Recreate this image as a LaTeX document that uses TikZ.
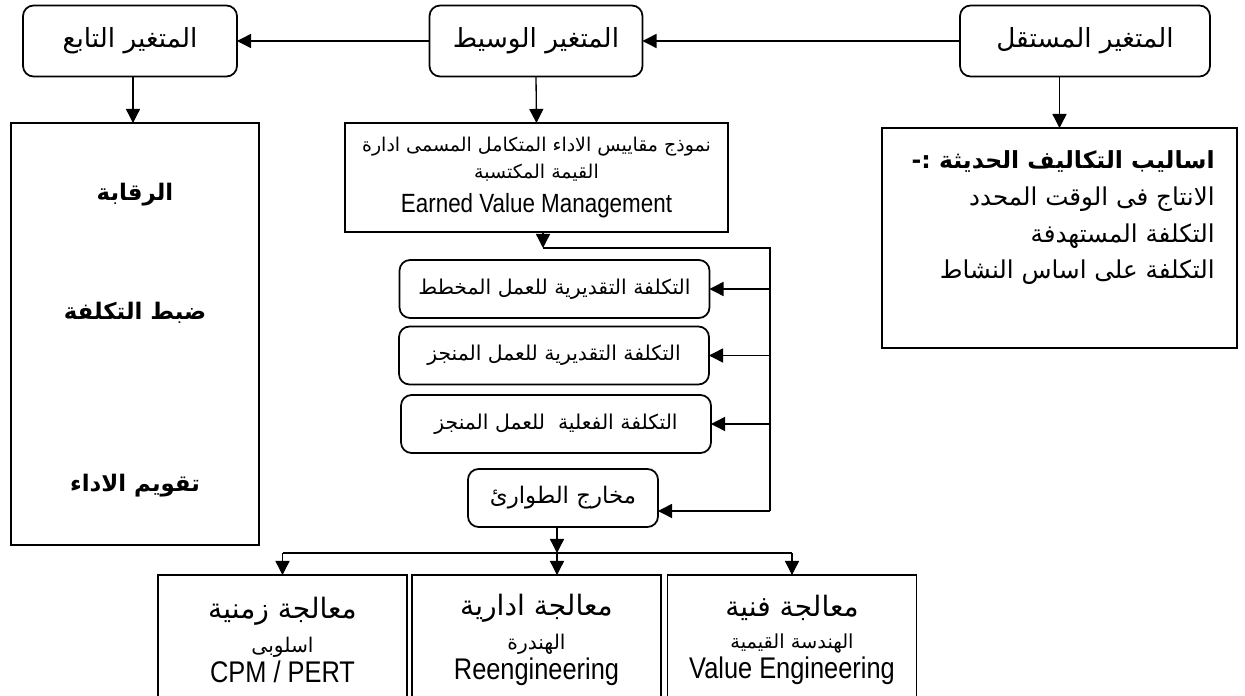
\documentclass[tikz,border=0pt]{standalone}
\usepackage{fontspec}
\setmainfont{Liberation Sans}
\newfontfamily\arabicfont[Script=Arabic]{DejaVu Sans}
\newfontfamily\narrowfont[FakeStretch=0.85]{Liberation Sans}
\TeXXeTstate=1
\usetikzlibrary{positioning,arrows.meta}
\newcommand{\artxt}[1]{{\arabicfont\beginR #1\endR}}

\tikzset{
  varbox/.style={draw, rounded corners=6pt, line width=1pt, inner sep=0pt, outer sep=0pt,
    minimum height=1.42cm, font=\fontsize{15}{17}\selectfont},
  costbox/.style={draw, rounded corners=6pt, line width=1pt, inner sep=0pt, outer sep=0pt,
    minimum width=6.2cm, minimum height=1.16cm, font=\fontsize{11.6}{14}\selectfont},
  bigbox/.style={draw, line width=1pt, inner sep=0pt, outer sep=0pt},
  lowbox/.style={bigbox, minimum width=4.98cm, minimum height=2.6cm, align=center},
  arr/.style={line width=0.75pt, -{Triangle[length=8pt,width=8pt]}},
  rail/.style={line width=0.75pt}
}

\begin{document}
\begin{tikzpicture}[x=0.02cm, y=-0.02cm]
  \useasboundingbox (0,0) rectangle (1245,696);
  \clip (0,0) rectangle (1245,696);

  % top row
  \node[varbox, minimum width=4.28cm] (dep) at (130,41) {\artxt{المتغير التابع}};
  \node[varbox, minimum width=4.26cm] (med) at (536,41) {\artxt{المتغير الوسيط}};
  \node[varbox, minimum width=5.0cm]  (ind) at (1085,41) {\artxt{المتغير المستقل}};

  % big boxes
  \node[bigbox, minimum width=4.96cm, minimum height=8.44cm] (depbox) at (135,334) {};
  \node[font=\fontsize{13}{16}\bfseries] (rqb) at (135,195) {\artxt{الرقابة}};
  \node[font=\fontsize{13}{16}\bfseries] (dbt) at (135,313) {\artxt{ضبط التكلفة}};
  \node[font=\fontsize{13}{16}\bfseries] (tqw) at (135,486) {\artxt{تقويم الاداء}};

  \node[bigbox, minimum width=7.66cm, minimum height=2.18cm, align=center] (evm) at (536.5,177.5)
    {{\fontsize{10.8}{14}\selectfont\artxt{نموذج مقاييس الاداء المتكامل المسمى ادارة}}\\[3pt]
     {\fontsize{10.8}{14}\selectfont\artxt{القيمة المكتسبة}}\\[6pt]
     {\narrowfont\fontsize{15}{18}\selectfont Earned Value Management}};

  \node[bigbox, minimum width=7.1cm, minimum height=4.4cm] (mtd) at (1059.5,238) {};
  \node[anchor=north east, align=right, inner sep=0pt, font=\fontsize{14}{21}\selectfont] (mtdtxt) at (1215,150)
    {{\fontsize{13.4}{21}\bfseries\artxt{اساليب التكاليف الحديثة :-}}\\
     \artxt{الانتاج فى الوقت المحدد}\\
     \artxt{التكلفة المستهدفة}\\
     \artxt{التكلفة على اساس النشاط}};

  % cost boxes
  \node[costbox] (pv) at (554.5,289) {\artxt{التكلفة التقديرية للعمل المخطط}};
  \node[costbox] (ev) at (554,355.5) {\artxt{التكلفة التقديرية للعمل المنجز}};
  \node[costbox] (ac) at (556,424) {\artxt{التكلفة الفعلية \ للعمل المنجز}};
  \node[costbox, minimum width=3.8cm, font=\fontsize{13}{15}\selectfont] (mkh) at (563,498) {\artxt{مخارج الطوارئ}};

  % bottom row
  \node[lowbox] (tim) at (282.5,640)
    {{\fontsize{16}{20}\selectfont\artxt{معالجة زمنية}}\\[6pt]
     {\fontsize{11.5}{16}\selectfont\artxt{اسلوبى}}\\[1pt]
     {\narrowfont\fontsize{17}{20}\selectfont CPM / PERT}};
  \node[lowbox] (adm) at (536.5,640)
    {{\fontsize{16}{20}\selectfont\artxt{معالجة ادارية}}\\[6pt]
     {\fontsize{11.5}{16}\selectfont\artxt{الهندرة}}\\[1pt]
     {\narrowfont\fontsize{17}{20}\selectfont Reengineering}};
  \node[lowbox] (tec) at (792,640)
    {{\fontsize{16}{20}\selectfont\artxt{معالجة فنية}}\\[6pt]
     {\fontsize{11}{16}\selectfont\artxt{الهندسة القيمية}}\\[1pt]
     {\narrowfont\fontsize{17}{20}\selectfont Value Engineering}};

  % connectors
  \coordinate (evmout) at (543,248);
  \coordinate (railtop) at (770,248);
  \coordinate (railbot) at (770,511);
  \coordinate (fork) at (557,553);

  \draw[arr] (ind.west) -- (med.east);
  \draw[arr] (med.west) -- (dep.east);
  \draw[arr] (133,76) -- (133,123);
  \draw[arr] (med.south) -- (evm.north);
  \draw[arr] (ind.south -| mtd.north) -- (mtd.north);
  \draw[arr] (evmout |- evm.south) -- (evmout);
  \draw[rail] (evmout) -- (railtop) -- (railbot);
  \draw[arr] (railtop |- pv.east) -- (pv.east);
  \draw[arr] (railtop |- ev.east) -- (ev.east);
  \draw[arr] (railtop |- ac.east) -- (ac.east);
  \draw[arr] (railbot) -- (railbot -| mkh.east);
  \draw[arr] (fork |- mkh.south) -- (fork);
  \draw[rail] (fork -| tim.north) -- (fork -| tec.north);
  \draw[arr] (fork -| tim.north) -- (tim.north);
  \draw[arr] (fork) -- (fork |- adm.north);
  \draw[arr] (fork -| tec.north) -- (tec.north);
\end{tikzpicture}
\end{document}
